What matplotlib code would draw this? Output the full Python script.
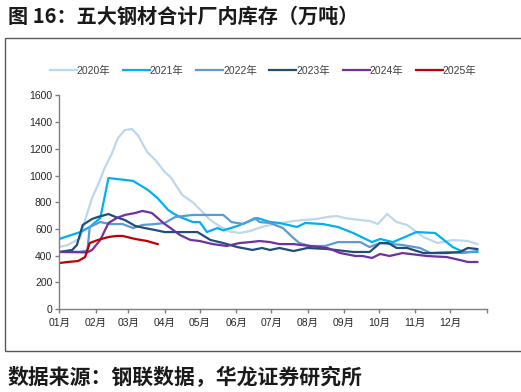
import matplotlib
matplotlib.use("Agg")
import matplotlib.pyplot as plt
from matplotlib.patches import Rectangle

plt.rcParams['font.family'] = ['Liberation Sans', 'Noto Sans CJK SC', 'DejaVu Sans']

# ---- data (day of year, value in 万吨) ----
d2020 = [0, 7, 18, 22, 28, 33, 39, 45, 50, 56, 62, 67, 75, 82, 90, 95, 105, 114, 129, 137, 146, 154, 163,
         171, 180, 190, 200, 208, 220, 229, 237, 245, 257, 265, 272, 280, 288, 297, 311, 323, 336, 349, 357]
v2020 = [465, 480, 532, 667, 832, 929, 1062, 1167, 1280, 1340, 1348, 1302, 1176, 1116, 1026, 988, 854, 800, 667, 620, 580, 570, 585,
         610, 630, 645, 660, 667, 675, 690, 697, 680, 667, 660, 637, 712, 652, 630, 540, 495, 517, 510, 487]

d2021 = [0, 5, 18, 26, 35, 42, 63, 76, 84, 93, 97, 103, 114, 120, 126, 135, 140, 152, 169, 180,
         188, 203, 210, 225, 238, 251, 267, 274, 285, 305, 321, 336, 345, 357]
v2021 = [525, 540, 577, 615, 682, 981, 960, 890, 830, 742, 718, 690, 652, 652, 577, 607, 590, 622, 682, 652,
         645, 615, 645, 637, 615, 570, 502, 525, 502, 577, 570, 465, 428, 428]

d2022 = [0, 7, 18, 24, 26, 35, 43, 54, 63, 71, 82, 90, 99, 114, 140, 147, 157, 167, 171, 180,
         191, 199, 205, 214, 227, 238, 257, 265, 274, 293, 308, 317, 331, 345, 357]
v2022 = [428, 430, 430, 440, 615, 652, 637, 637, 607, 630, 637, 645, 690, 705, 705, 652, 637, 682, 652, 645,
         607, 540, 495, 473, 473, 502, 502, 465, 495, 480, 458, 420, 428, 420, 435]

d2023 = [0, 11, 15, 20, 28, 33, 42, 48, 56, 65, 73, 82, 90, 103, 118, 129, 140, 152, 165, 173, 180,
         188, 200, 212, 229, 251, 265, 274, 281, 288, 297, 311, 331, 342, 349, 357]
v2023 = [428, 443, 480, 630, 675, 690, 712, 690, 667, 622, 607, 592, 577, 577, 577, 518, 495, 465, 443, 458, 443,
         458, 435, 458, 450, 428, 428, 495, 495, 458, 458, 420, 420, 428, 458, 450]

d2024 = [0, 24, 28, 35, 42, 49, 56, 65, 71, 79, 84, 90, 95, 103, 112, 120, 131, 143, 154, 163, 171, 180,
         188, 200, 214, 229, 240, 253, 259, 267, 274, 282, 293, 314, 331, 342, 349, 357]
v2024 = [428, 425, 443, 518, 645, 682, 705, 720, 735, 720, 682, 637, 607, 555, 518, 510, 487, 473, 495, 502, 510, 502,
         487, 487, 473, 458, 420, 398, 398, 383, 413, 398, 420, 398, 390, 368, 353, 353]

d2025 = [0, 7, 16, 22, 26, 33, 42, 49, 54, 65, 75, 84]
v2025 = [345, 353, 360, 390, 495, 518, 540, 548, 548, 525, 510, 487]

series_labels = ['2020年', '2021年', '2022年', '2023年', '2024年', '2025年']
colors = ['#BDD7EE', '#00B0F0', '#5B9BD5', '#1F4E79', '#7030A0', '#C00000']
series = [(d2020, v2020), (d2021, v2021), (d2022, v2022), (d2023, v2023), (d2024, v2024), (d2025, v2025)]

month_days = [0, 31, 59, 90, 120, 151, 181, 212, 243, 273, 304, 334]
month_labels = ['01月', '02月', '03月', '04月', '05月', '06月', '07月', '08月', '09月', '10月', '11月', '12月']
y_ticks = [0, 200, 400, 600, 800, 1000, 1200, 1400, 1600]

W, H = 521, 392
fig = plt.figure(figsize=(W / 100, H / 100), dpi=100)

# outer frame
fig.patches.append(Rectangle((5 / W, 1 - 351 / H), (W + 10) / W, (351 - 38) / H,
                             transform=fig.transFigure, fill=False,
                             edgecolor='#595959', linewidth=1.0, clip_on=False))

ax = fig.add_axes([59.3 / W, 1 - 309.2 / H, (486.7 - 59.3) / W, (309.2 - 95.3) / H])
for (d, v), c, lab in zip(series, colors, series_labels):
    ax.plot(d, v, color=c, linewidth=1.6, label=lab)

ax.set_xlim(0, 365)
ax.set_ylim(0, 1600)
ax.set_yticks(y_ticks)
ax.set_yticklabels([str(t) for t in y_ticks])
ax.set_xticks(month_days + [365])
ax.set_xticklabels(month_labels + [''])
for s in ['top', 'right']:
    ax.spines[s].set_visible(False)
for s in ['left', 'bottom']:
    ax.spines[s].set_color('#7f7f7f')
    ax.spines[s].set_linewidth(1.0)
ax.tick_params(axis='both', colors='#7f7f7f', labelcolor='#262626', labelsize=7.5, length=3, width=1.0)
ax.tick_params(axis='y', pad=2)
ax.tick_params(axis='x', pad=3)

leg = fig.legend(loc='center', bbox_to_anchor=(263 / W, 1 - 71 / H), ncol=6, frameon=False,
                 fontsize=7.5, handlelength=2.6, handletextpad=0.0, columnspacing=1.2)
for t in leg.get_texts():
    t.set_color('#404040')

fig.text(8 / W, 1 - 16 / H, '图 16：五大钢材合计厂内库存（万吨）', fontsize=14.5, fontweight='bold',
         family=['Noto Sans CJK SC', 'DejaVu Sans'], va='center', ha='left', color='#1a1a1a')
fig.text(8 / W, 1 - 377 / H, '数据来源：钢联数据，华龙证券研究所', fontsize=15, fontweight='bold',
         family=['Noto Sans CJK SC', 'DejaVu Sans'], va='center', ha='left', color='#1a1a1a')

fig.savefig('out.png', dpi=100)
